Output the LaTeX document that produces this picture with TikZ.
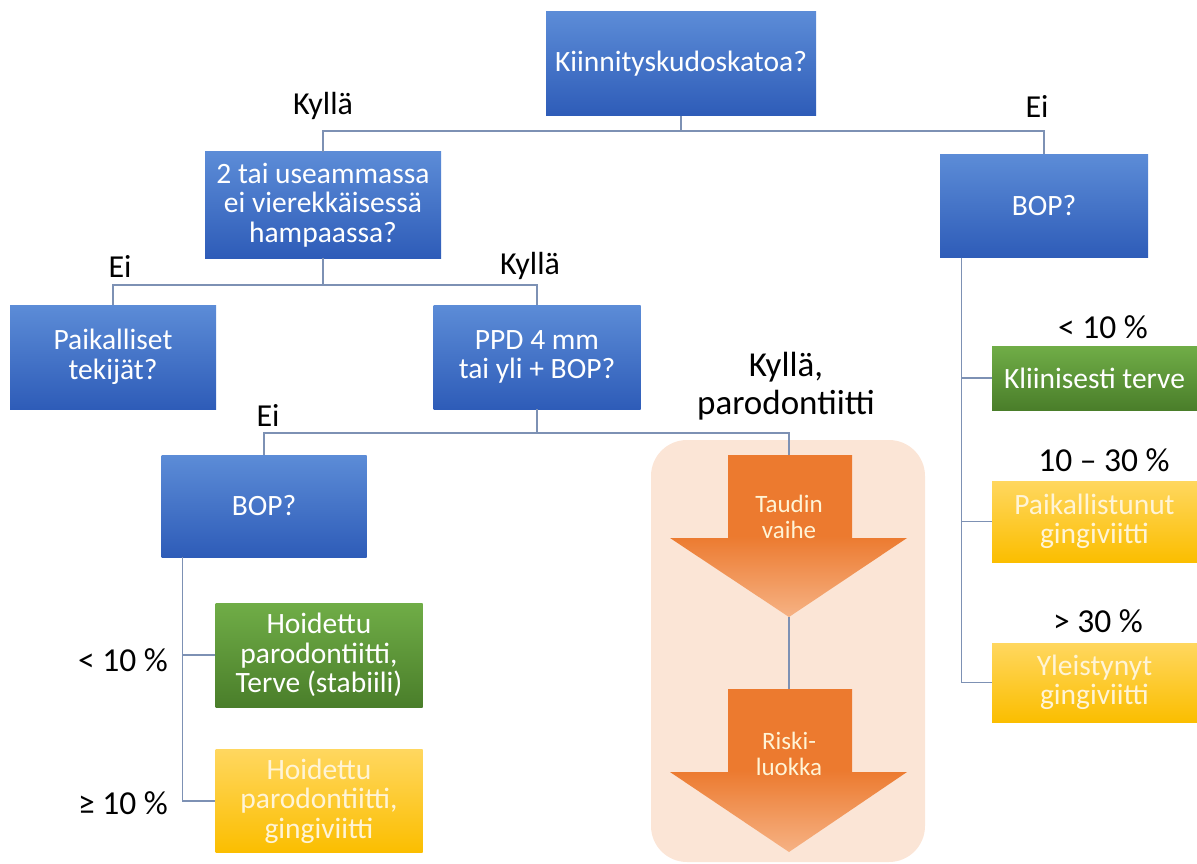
\documentclass[tikz,border=0pt]{standalone}
\usepackage{fontspec}
\setmainfont{Carlito}
\usetikzlibrary{calc}
\definecolor{blueT}{RGB}{92,140,215}
\definecolor{blueB}{RGB}{46,92,184}
\definecolor{greenT}{RGB}{112,173,71}
\definecolor{greenB}{RGB}{74,126,42}
\definecolor{yelT}{RGB}{255,215,95}
\definecolor{yelB}{RGB}{251,190,0}
\definecolor{orT}{RGB}{236,122,47}
\definecolor{orB}{RGB}{246,178,132}
\definecolor{peach}{RGB}{251,229,214}
\definecolor{conn}{RGB}{125,145,180}
\definecolor{cream}{RGB}{255,244,214}
\begin{document}
\begin{tikzpicture}[x=1pt,y=-1pt,
  box/.style={rectangle, inner sep=0pt, align=center, text=white,
    font=\fontsize{29.5}{29.5}\selectfont},
  bluebox/.style={box, top color=blueT, bottom color=blueB},
  greenbox/.style={box, top color=greenT, bottom color=greenB},
  yelbox/.style={box, top color=yelT, bottom color=yelB, text=cream},
  lbl/.style={inner sep=0pt, align=center, text=black, font=\fontsize{32}{38}\selectfont},
  pct/.style={inner sep=0pt, align=center, text=black, font=\fontsize{33.5}{36}\selectfont},
  arrtxt/.style={inner sep=0pt, align=center, text=cream, font=\fontsize{25}{25.5}\selectfont},
  link/.style={draw=conn, line width=1.1pt},
  bigarrow/.style={top color=orT, bottom color=orB, middle color=orT}
]
\useasboundingbox (0,0) rectangle (1197,864);

% peach background panel
\fill[peach, rounded corners=36pt] (651,440) rectangle (925,862);

% boxes
\node[bluebox, minimum width=270pt, minimum height=104pt] (top) at (681,64) {Kiinnityskudoskatoa?};
\node[bluebox, minimum width=236pt, minimum height=106pt] (q2) at (323,205) {2 tai useammassa\\ei vierekkäisessä\\hampaassa?};
\node[bluebox, minimum width=208pt, minimum height=103pt] (bop1) at (1044,206) {BOP?};
\node[bluebox, minimum width=206pt, minimum height=104pt] (pai) at (113,357) {Paikalliset\\tekijät?};
\node[bluebox, minimum width=207pt, minimum height=104pt] (ppd) at (537,357) {PPD 4 mm\\tai yli + BOP?};
\node[bluebox, minimum width=205pt, minimum height=102pt] (bop2) at (264,506) {BOP?};
\node[greenbox, minimum width=207pt, minimum height=104pt] (hg) at (319,655) {Hoidettu\\parodontiitti,\\Terve (stabiili)};
\node[yelbox, minimum width=207pt, minimum height=103pt] (hy) at (319,801) {Hoidettu\\parodontiitti,\\gingiviitti};
\node[greenbox, minimum width=205pt, minimum height=64pt] (kt) at (1094.5,378) {Kliinisesti terve};
\node[yelbox, minimum width=205pt, minimum height=81pt] (pg) at (1094.5,521.5) {Paikallistunut\\gingiviitti};
\node[yelbox, minimum width=205pt, minimum height=79pt] (yg) at (1094.5,682.5) {Yleistynyt\\gingiviitti};

% block arrows
\path[bigarrow] (728,455) -- (852,455) -- (852,538) -- (907,538) -- (789,617)
  -- (670,538) -- (728,538) -- cycle;
\path[bigarrow] (728,689) -- (852,689) -- (852,772) -- (907,772) -- (789,852)
  -- (670,772) -- (728,772) -- cycle;
\coordinate (a1top) at (789,455);
\coordinate (a1tip) at (789,617);
\coordinate (a2top) at (789,689);
\node[arrtxt] (t1) at (789,517) {Taudin\\vaihe};
\node[arrtxt] (t2) at (789,754) {Riski-\\luokka};

% connectors
\draw[link] (top.south) -- (top.south |- 0,131) -| (q2.north);
\draw[link] (top.south |- 0,131) -| (bop1.north);
\draw[link] (q2.south) -- (q2.south |- 0,285) -| (pai.north);
\draw[link] (q2.south |- 0,285) -| (ppd.north);
\draw[link] (ppd.south) -- (ppd.south |- 0,433) -| (bop2.north);
\draw[link] (ppd.south |- 0,433) -| (a1top);
\draw[link] (a1tip) -- (a2top);
\draw[link] ([xshift=22pt]bop1.south west) |- (kt.west);
\draw[link] ([xshift=22pt]bop1.south west) |- (pg.west);
\draw[link] ([xshift=22pt]bop1.south west) |- (yg.west);
\draw[link] ([xshift=21pt]bop2.south west) |- (hg.west);
\draw[link] ([xshift=21pt]bop2.south west) |- (hy.west);

% labels
\node[lbl] (l1) at (323,106) {Kyllä};
\node[lbl] (l2) at (1037,106) {Ei};
\node[lbl] (l3) at (120,266) {Ei};
\node[lbl] (l4) at (530,266) {Kyllä};
\node[lbl] (l5) at (268,415) {Ei};
\node[lbl, font=\fontsize{35}{38}\selectfont] (l6) at (786,386) {Kyllä,\\parodontiitti};
\node[pct] (p1) at (1103,327) {< 10 \%};
\node[pct] (p2) at (1104,460) {10 – 30 \%};
\node[pct] (p3) at (1098,621) {> 30 \%};
\node[pct] (p4) at (123,660) {< 10 \%};
\node[pct] (p5) at (123,803) {≥ 10 \%};
\end{tikzpicture}
\end{document}
